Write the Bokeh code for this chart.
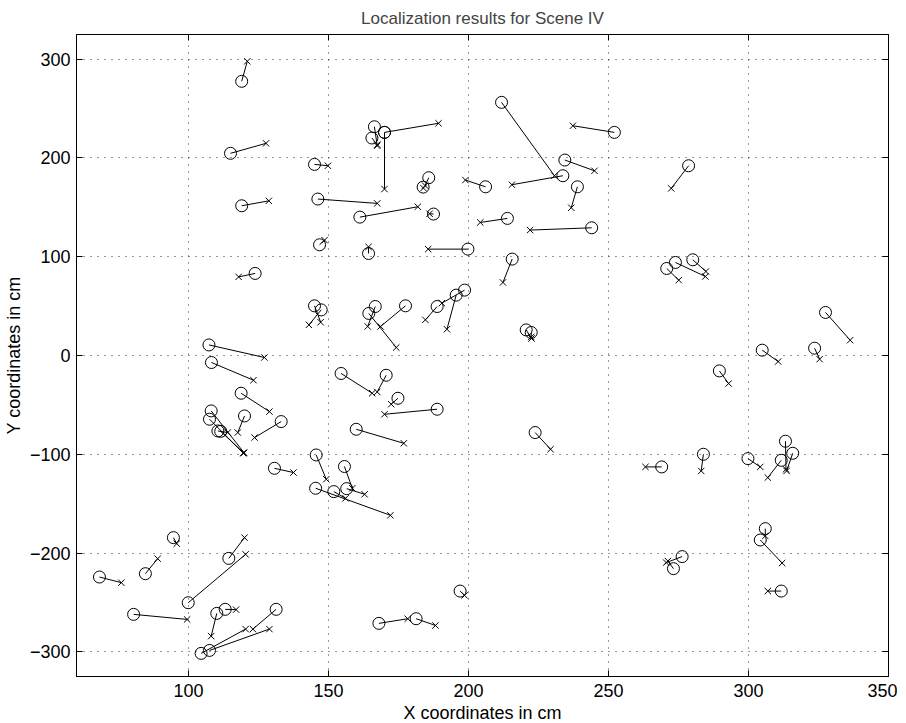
from bokeh.plotting import figure
from bokeh.models import FixedTicker, LinearAxis, Range1d, ColumnDataSource
from bokeh.embed import file_html
from bokeh.resources import INLINE

# estimated positions (circles) and true positions (crosses), paired
est_x = [119.0, 115.0, 145.0, 146.2, 119.0, 146.8, 166.4, 170.0, 170.0, 165.5,
         185.8, 183.8, 206.1, 211.8, 233.7, 252.1, 234.4, 238.9, 161.2, 187.5,
         213.9, 244.0, 164.3, 199.8, 278.6, 123.8, 145.0, 147.4, 107.3, 108.2,
         118.8, 108.1, 107.5, 110.5, 111.5, 120.0, 133.1, 145.6, 130.7, 215.6,
         166.7, 164.4, 177.5, 188.8, 198.6, 195.6, 220.6, 222.4, 154.5, 170.6,
         174.8, 188.8, 159.9, 155.7, 223.8, 270.8, 273.9, 280.1, 327.5, 304.9,
         323.6, 289.6, 269.0, 283.9, 299.8, 311.7, 313.2, 315.8, 145.4, 151.9,
         156.5, 94.6, 114.4, 99.9, 84.6, 68.2, 80.4, 110.1, 113.1, 104.5,
         107.5, 131.3, 197.0, 168.0, 181.3, 306.0, 304.2, 276.3, 273.2, 311.7]
est_y = [277.6, 204.7, 193.5, 158.4, 151.6, 112.1, 231.6, 225.9, 225.9, 220.2,
         180.0, 170.5, 170.8, 256.3, 182.0, 225.9, 197.9, 170.8, 140.1, 143.2,
         138.8, 129.3, 103.3, 107.7, 192.1, 83.1, 50.3, 46.2, 10.7, -7.1,
         -38.2, -56.1, -64.5, -76.4, -76.8, -61.2, -66.9, -100.7, -114.2, 97.6,
         49.6, 42.6, 50.3, 49.6, 66.2, 61.1, 25.9, 23.3, -18.2, -20.0,
         -43.3, -54.4, -74.7, -112.4, -78.0, 88.1, 94.2, 96.9, 43.6, 5.4,
         7.4, -15.6, -112.8, -100.0, -104.4, -106.1, -86.8, -99.0, -134.4, -137.8,
         -134.8, -184.4, -205.4, -250.3, -220.9, -224.3, -262.1, -261.1, -257.0, -301.6,
         -298.6, -257.0, -238.5, -271.2, -266.5, -175.3, -186.8, -203.6, -215.8, -238.5]
true_x = [121.0, 127.7, 149.8, 167.4, 128.7, 148.6, 167.4, 189.3, 170.0, 167.4,
          184.5, 183.9, 198.9, 230.7, 215.5, 237.3, 245.0, 236.7, 181.9, 186.1,
          204.2, 222.0, 164.3, 185.6, 272.4, 117.9, 147.2, 143.0, 127.1, 123.2,
          128.9, 119.8, 119.6, 114.0, 119.7, 117.6, 123.6, 149.2, 137.5, 212.3,
          164.0, 174.2, 168.6, 184.6, 190.5, 192.3, 222.5, 222.4, 165.6, 167.4,
          172.4, 170.0, 176.9, 158.5, 229.3, 275.1, 284.6, 284.8, 336.3, 310.6,
          325.4, 292.9, 263.2, 283.1, 304.2, 306.9, 313.4, 313.6, 172.1, 156.1,
          162.9, 95.8, 120.0, 120.4, 89.0, 76.0, 99.5, 108.1, 117.0, 120.4,
          128.9, 123.0, 198.6, 178.3, 188.2, 306.0, 312.0, 270.6, 271.2, 306.9]
true_y = [297.9, 214.8, 192.1, 154.0, 156.6, 116.8, 212.4, 235.1, 168.5, 213.5,
          172.0, 169.5, 177.6, 182.0, 172.9, 232.6, 187.0, 149.6, 150.6, 143.5,
          134.7, 127.0, 110.0, 107.7, 169.2, 79.6, 33.7, 31.0, -2.0, -25.0,
          -56.8, -98.3, -99.0, -78.0, -98.6, -78.0, -83.1, -125.3, -118.5, 74.0,
          29.4, 8.1, 29.4, 36.1, 53.0, 26.6, 17.2, 18.8, -38.2, -36.9,
          -49.3, -59.5, -88.9, -134.4, -94.9, 76.3, 80.0, 85.1, 15.5, -6.1,
          -3.7, -28.4, -112.8, -116.9, -112.8, -123.6, -115.2, -116.9, -161.8, -144.6,
          -140.5, -190.5, -184.4, -201.3, -205.7, -230.0, -267.2, -284.1, -257.3, -277.0,
          -277.0, -277.0, -242.9, -266.5, -273.3, -182.7, -210.1, -209.7, -208.1, -238.5]

x_ticks = [100, 150, 200, 250, 300, 350]
x_tick_labels = ["100", "150", "200", "250", "300", "350"]
y_ticks = [-300, -200, -100, 0, 100, 200, 300]
y_tick_labels = ["\u2212300", "\u2212200", "\u2212100", "0", "100", "200", "300"]

FONT = "Liberation Sans"

p = figure(frame_width=812, frame_height=642,
           x_range=Range1d(60, 350), y_range=Range1d(-325, 325),
           output_backend="svg", toolbar_location=None,
           title="Localization results for Scene IV",
           min_border_left=60, min_border_top=0, min_border_right=9, min_border_bottom=0)

p.title.align = "center"
p.title.text_font = FONT
p.title.text_font_size = "17px"
p.title.text_font_style = "normal"
p.title.standoff = 13

p.outline_line_color = "black"
p.outline_line_width = 1

for ax, ticks, labels in ((p.xaxis[0], x_ticks, x_tick_labels), (p.yaxis[0], y_ticks, y_tick_labels)):
    ax.ticker = FixedTicker(ticks=ticks)
    ax.major_label_overrides = dict(zip(ticks, labels))
    ax.major_tick_in = 6
    ax.major_tick_out = 0
    ax.minor_tick_line_color = None
    ax.axis_line_color = "black"
    ax.major_tick_line_color = "black"
    ax.major_label_text_font = FONT
    ax.major_label_text_font_size = "18px"
    ax.major_label_text_color = "black"
    ax.axis_label_text_font = FONT
    ax.axis_label_text_font_size = "18px"
    ax.axis_label_text_font_style = "normal"
    ax.axis_label_text_color = "black"

p.xaxis.axis_label = "X coordinates in cm"
p.yaxis.axis_label = "Y coordinates in cm"
p.xaxis.major_label_standoff = 7
p.xaxis.axis_label_standoff = 3
p.yaxis.major_label_standoff = 6
p.yaxis.axis_label_standoff = 3

top = LinearAxis(ticker=FixedTicker(ticks=x_ticks), major_label_text_font_size="1px",
                 major_label_text_color=None, major_tick_in=6, major_tick_out=0,
                 minor_tick_line_color=None, major_label_standoff=0)
right = LinearAxis(ticker=FixedTicker(ticks=y_ticks), major_label_text_font_size="1px",
                   major_label_text_color=None, major_tick_in=6, major_tick_out=0,
                   minor_tick_line_color=None, major_label_standoff=0)
p.add_layout(top, "above")
p.add_layout(right, "right")

p.xgrid.ticker = FixedTicker(ticks=x_ticks)
p.ygrid.ticker = FixedTicker(ticks=y_ticks)
for g in (p.xgrid, p.ygrid):
    g.grid_line_color = "#333333"
    g.grid_line_dash = "1 6"
    g.grid_line_width = 1

src = ColumnDataSource(dict(ex=est_x, ey=est_y, tx=true_x, ty=true_y))
p.segment(x0="ex", y0="ey", x1="tx", y1="ty", source=src, line_color="black", line_width=1)
p.scatter(x="ex", y="ey", source=src, marker="circle", size=12, fill_color=None,
          line_color="black", line_width=1)
p.scatter(x="tx", y="ty", source=src, marker="x", size=9, line_color="black", line_width=1)

open("out.html", "w").write(file_html(p, INLINE))
